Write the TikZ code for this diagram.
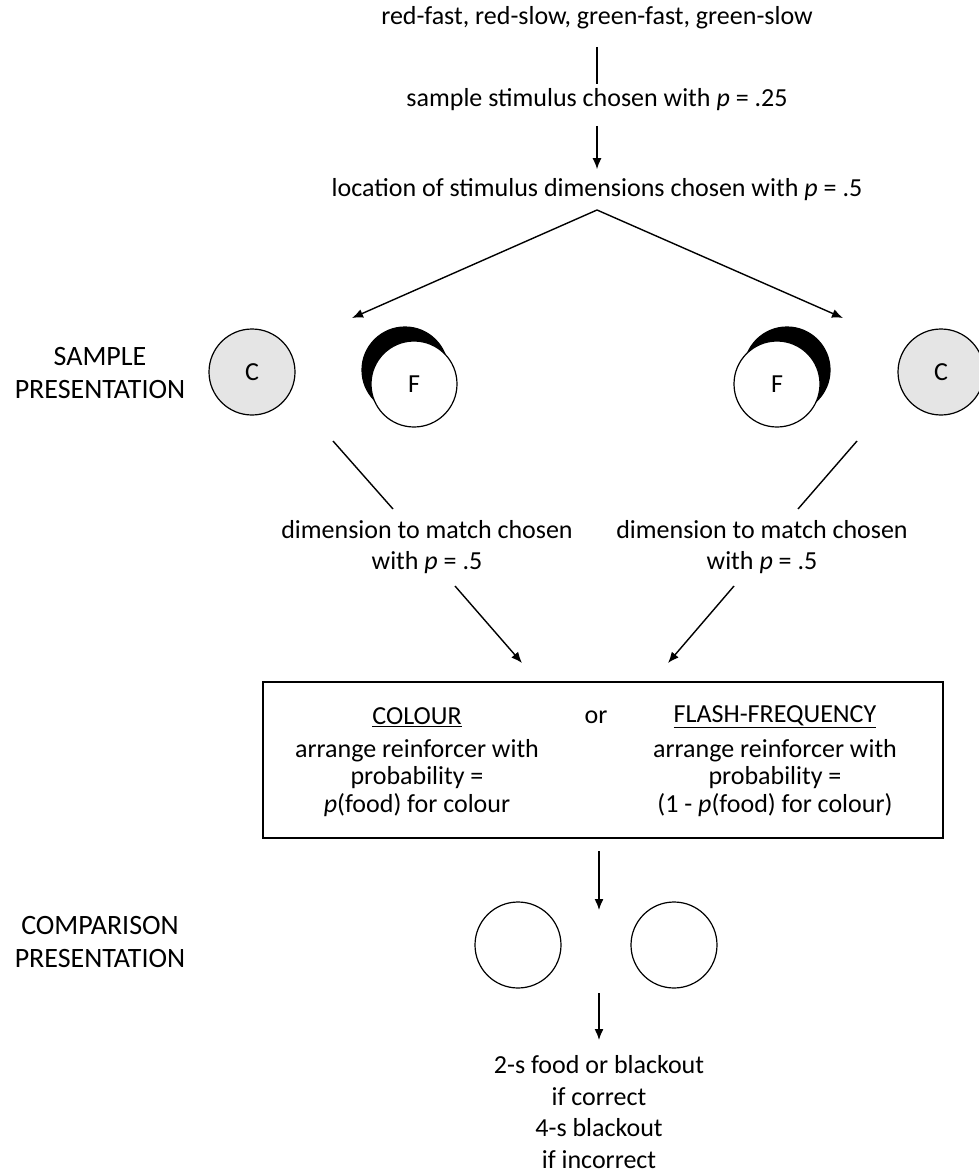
\documentclass[tikz,border=0pt]{standalone}
\usepackage{fontspec}
\setmainfont{Carlito}
\usetikzlibrary{positioning,arrows.meta}

\begin{document}
\begin{tikzpicture}[x=1pt,y=-1pt,line width=1.4pt,
     font=\fontsize{26}{31.5}\selectfont,>={Latex[length=11pt,width=9pt]},
     txt/.style={align=center,inner sep=0pt},
     side/.style={txt,font=\fontsize{28}{33}\selectfont},
     disc/.style={circle,draw,line width=1.2pt,minimum size=86pt,inner sep=0pt},
     colourdisc/.style={disc,fill=gray!20},
     flashdisc/.style={disc,fill=white}]
\useasboundingbox (0,0) rectangle (978,1174);
\node[txt] (stim) at (597,18) {red-fast, red-slow, green-fast, green-slow};
\node[txt] (pick) at (597,100) {sample stimulus chosen with \textit{p} = .25};
\node[txt] (loc) at (597,190) {location of stimulus dimensions chosen with \textit{p} = .5};
\draw[shorten <=17pt,shorten >=4pt] (stim) -- (pick);
\draw[->,shorten <=14pt,shorten >=9pt] (pick) -- (loc);
% sample presentation
\coordinate (apex) at (597,210);
\coordinate (tipL) at (352,318);
\coordinate (tipR) at (843,318);
\draw[->] (apex) -- (tipL);
\draw[->] (apex) -- (tipR);
\node[side] (sampLab) at (100,373) {SAMPLE\\PRESENTATION};
\node[colourdisc] (colL) at (252,372) {C};
\node[disc,fill=black] (shadeL) at (405,370) {};
\node[flashdisc] (flashL) at (414,384) {F};
\node[disc,fill=black] (shadeR) at (787,370) {};
\node[flashdisc] (flashR) at (777,384) {F};
\node[colourdisc] (colR) at (941,372) {C};
% dimension to match
\node[txt] (dimL) at (427,547) {dimension to match chosen\\with \textit{p} = .5};
\node[txt] (dimR) at (762,547) {dimension to match chosen\\with \textit{p} = .5};
\coordinate (upL) at (333,441);
\coordinate (lowL) at (393,509);
\coordinate (upR) at (857,441);
\coordinate (lowR) at (798,509);
\draw (upL) -- (lowL);
\draw (upR) -- (lowR);
\coordinate (outL) at (455,586);
\coordinate (inL) at (522,663);
\coordinate (outR) at (734,586);
\coordinate (inR) at (668,663);
\draw[->] (outL) -- (inL);
\draw[->] (outR) -- (inR);
% reinforcer box
\node[draw,minimum width=680pt,minimum height=156pt] (box) at (603,760) {};
\node[txt] (colHead) at (417,717) {\underline{COLOUR}};
\node[txt] (orWord) at (596,717) {or};
\node[txt] (flashHead) at (775,717) {\underline{FLASH-FREQUENCY}};
\node[txt,font=\fontsize{26}{27.5}\selectfont] (colBody) at (417,778)
     {arrange reinforcer with\\probability =\\\textit{p}(food) for colour};
\node[txt,font=\fontsize{26}{27.5}\selectfont] (flashBody) at (775,778)
     {arrange reinforcer with\\probability =\\(1 - \textit{p}(food) for colour)};
% comparison presentation
\coordinate (boxOut) at (599,851);
\coordinate (cmpIn) at (599,910);
\draw[->] (boxOut) -- (cmpIn);
\node[side] (cmpLab) at (100,942) {COMPARISON\\PRESENTATION};
\node[disc] (cmpL) at (518,945) {};
\node[disc] (cmpR) at (674,945) {};
\coordinate (cmpOut) at (599,993);
\coordinate (resIn) at (599,1040);
\draw[->] (cmpOut) -- (resIn);
\node[txt] (result) at (599,1112) {2-s food or blackout\\if correct\\4-s blackout\\if incorrect};
\end{tikzpicture}
\end{document}
